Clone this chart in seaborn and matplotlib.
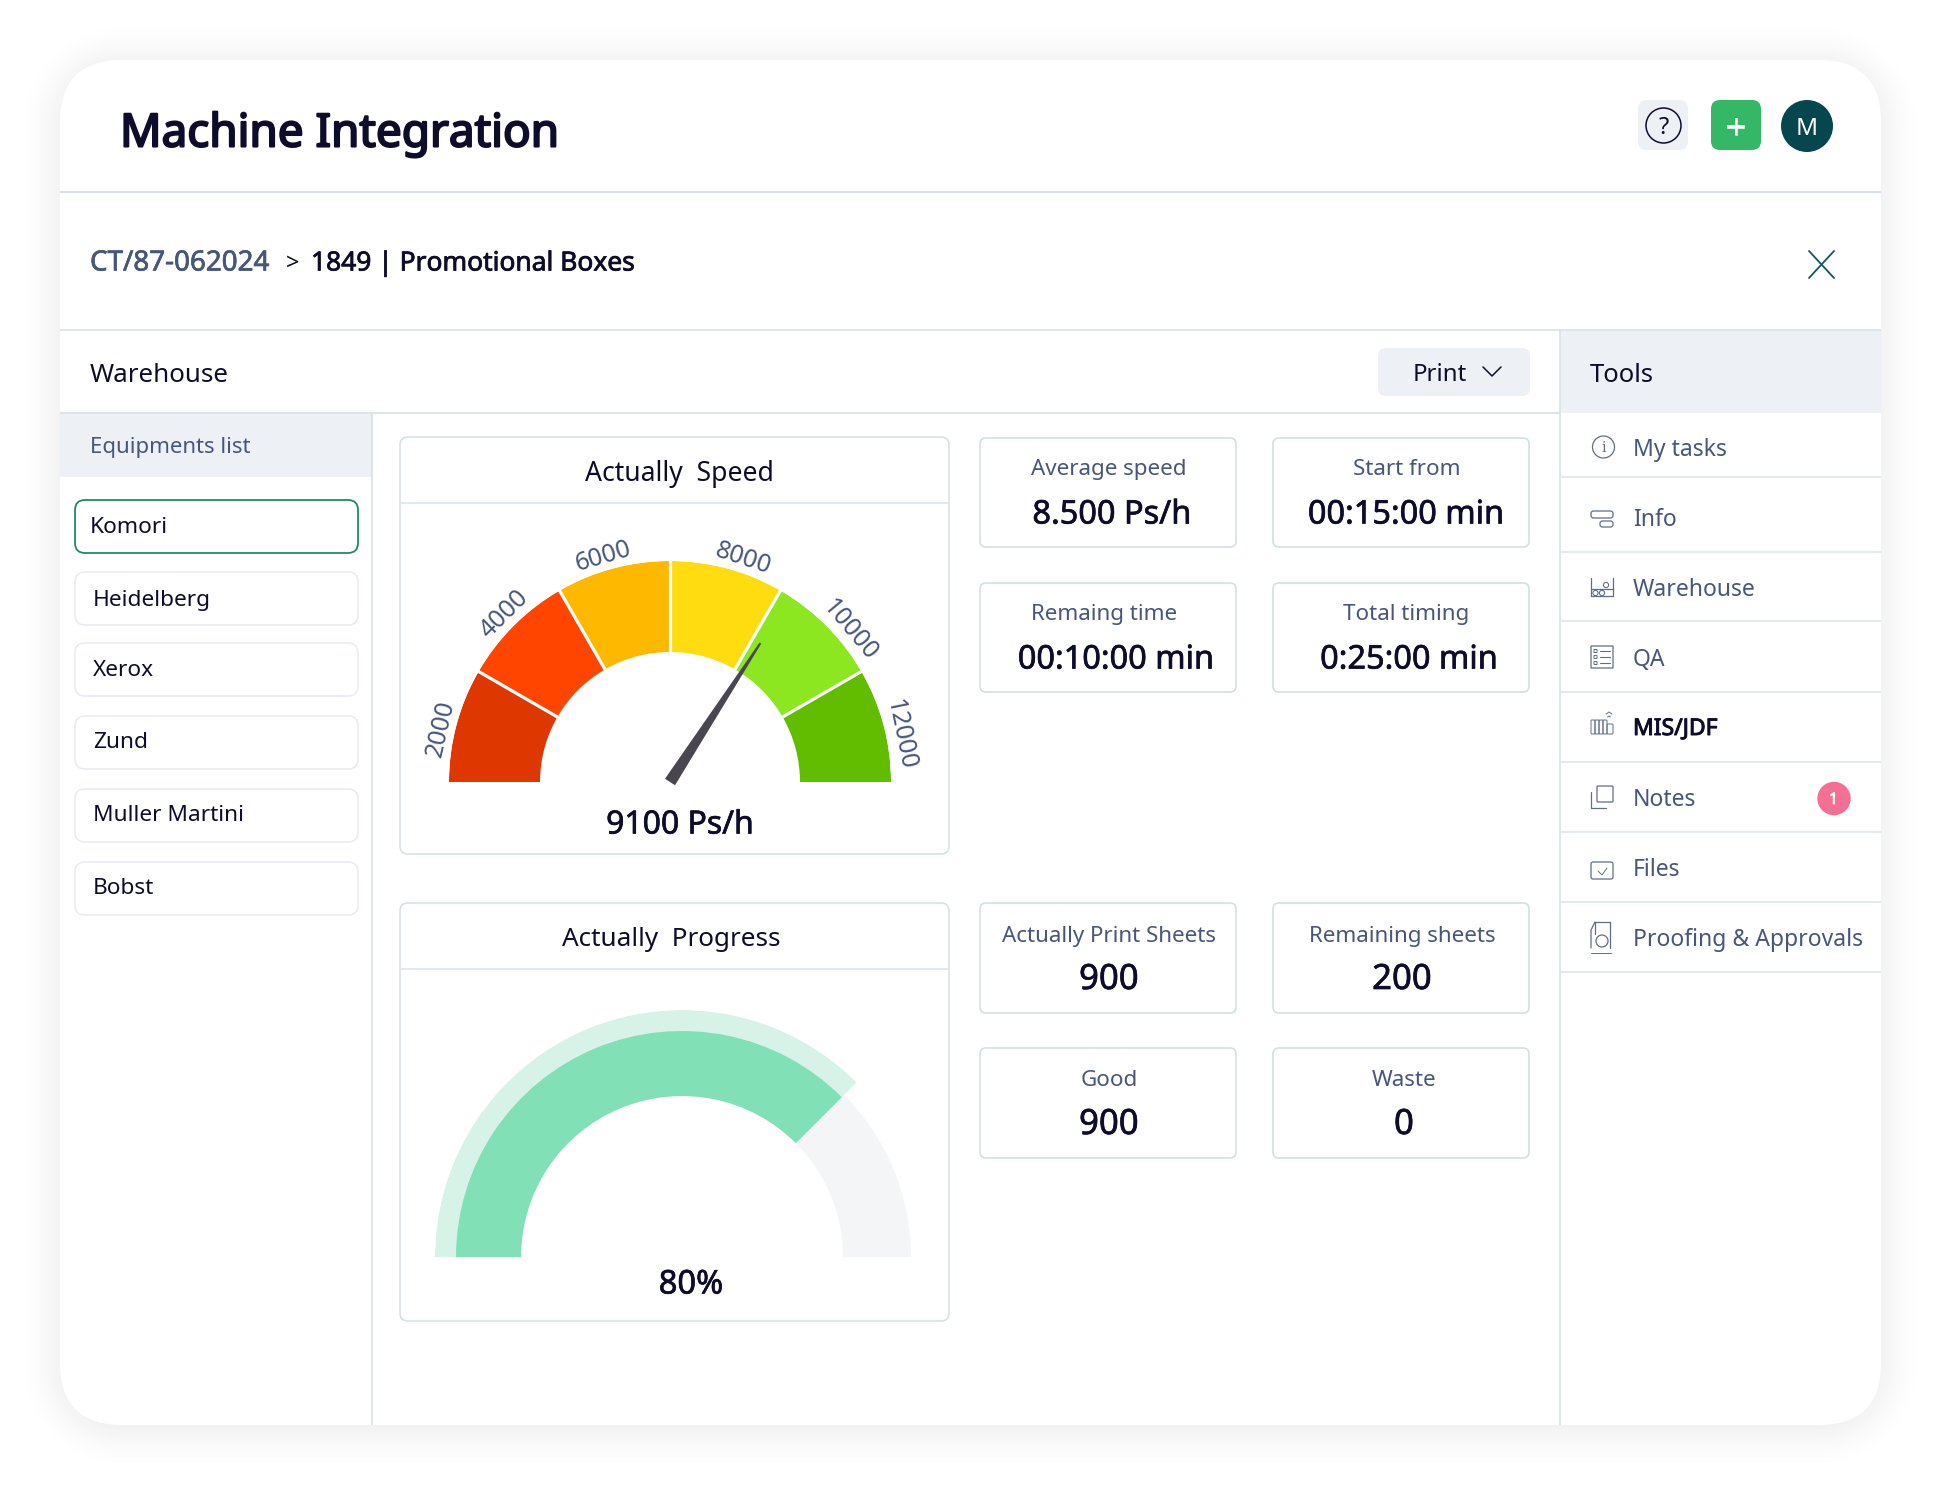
import numpy as np
import pandas as pd
import matplotlib
matplotlib.use("Agg")
import matplotlib.pyplot as plt
import matplotlib.patheffects as pe
from matplotlib.patches import FancyBboxPatch, Circle, Rectangle
import seaborn as sns

# ---------- data ----------
title = "Machine Integration"
crumb_job = "CT/87-062024"
crumb_name = "1849 | Promotional Boxes"
equipment_names = ["Komori", "Heidelberg", "Xerox", "Zund", "Muller Martini", "Bobst"]
tool_items = ["My tasks", "Info", "Warehouse", "QA", "MIS/JDF", "Notes", "Files", "Proofing & Approvals"]
speed_ticks = [2000, 4000, 6000, 8000, 10000, 12000]
speed_colors = ["#DE3700", "#FF4500", "#FFB800", "#FFDC10", "#8CE620", "#62BC00"]
speed_value = 9100
progress_value = 80
stat_upper_labels = ["Average speed", "Start from", "Remaing time", "Total timing"]
stat_upper_values = ["8.500 Ps/h", "00:15:00 min", "00:10:00 min", "0:25:00 min"]
stat_lower_labels = ["Actually Print Sheets", "Remaining sheets", "Good", "Waste"]
stat_lower_values = ["900", "200", "900", "0"]

# ---------- style ----------
sns.set_theme(style="white")
plt.rcParams["font.family"] = ["Noto Sans", "DejaVu Sans"]
W, H = 1941, 1486
INK = "#0D0D2B"
SLATE = "#46577A"
LINE = "#D3E0E2"
PANEL = "#EDF0F5"

fig = plt.figure(figsize=(W / 100, H / 100), dpi=100, facecolor="white")
ui = fig.add_axes([0, 0, 1, 1])
ui.set_xlim(0, W)
ui.set_ylim(H, 0)
ui.axis("off")


def rbox(x0, y0, x1, y1, r, fc="white", ec="none", lw=1.0, z=2):
    ui.add_patch(FancyBboxPatch((x0, y0), x1 - x0, y1 - y0,
                                boxstyle=f"round,pad=0,rounding_size={r}",
                                fc=fc, ec=ec, lw=lw, zorder=z))


def label(x, y, s, size, color=INK, ha="center", heavy=0.0, z=6, **kw):
    t = ui.text(x, y - 1, s, fontsize=size, color=color, ha=ha, va="center_baseline",
                zorder=z, **kw)
    if heavy:
        t.set_path_effects([pe.withStroke(linewidth=heavy, foreground=color)])


def hline(x0, x1, y, color=LINE, lw=1.1):
    ui.plot([x0, x1], [y, y], color=color, lw=lw, zorder=3, solid_capstyle="butt")


def vline(x, y0, y1, color=LINE, lw=1.1):
    ui.plot([x, x], [y0, y1], color=color, lw=lw, zorder=3, solid_capstyle="butt")


# card shadow
CX0, CY0, CX1, CY1, CR = 60, 60, 1881, 1425, 62
yy, xx = np.mgrid[0:H, 0:W]
qx = np.abs(xx + 0.5 - (CX0 + CX1) / 2) - ((CX1 - CX0) / 2 - CR)
qy = np.abs(yy + 0.5 - (CY0 + CY1 + 6) / 2) - ((CY1 - CY0) / 2 - CR)
dist = np.hypot(np.maximum(qx, 0), np.maximum(qy, 0)) + np.minimum(np.maximum(qx, qy), 0) - CR
shade = np.clip(1 - dist / 48, 0, 1) ** 2 * 0.055
rgba = np.zeros((H, W, 4))
rgba[..., :3] = 0.1
rgba[..., 3] = shade
ui.imshow(rgba, extent=(0, W, H, 0), zorder=0, aspect="auto", interpolation="nearest")
ui.set_xlim(0, W)
ui.set_ylim(H, 0)

rbox(CX0, CY0, CX1, CY1, CR, fc="white", z=1)

# header
label(120, 130, title, 33, ha="left", heavy=1.5)
hline(CX0, CX1, 192, "#C9D9DC")
rbox(1638, 100, 1688, 150, 9, fc=PANEL)
ui.add_patch(Circle((1663.5, 125.5), 17.5, fc="none", ec=INK, lw=1.1, zorder=5))
label(1663.5, 126, "?", 17)
rbox(1711, 100, 1761, 150, 9, fc="#34B866")
label(1736, 127, "+", 26, color="white", heavy=0.4)
ui.add_patch(Circle((1807, 126), 26, fc="#06464E", ec="none", zorder=4))
label(1807, 127, "M", 17.5, color="white")

# breadcrumb
label(90, 261, crumb_job, 20, color=SLATE, ha="left", heavy=0.5)
label(286, 262, ">", 17, ha="left")
label(311, 261, crumb_name, 19, ha="left", heavy=0.55)
ui.plot([1809, 1834], [251, 278], color="#15565E", lw=1.3, zorder=5)
ui.plot([1809, 1834], [278, 251], color="#15565E", lw=1.3, zorder=5)

# warehouse bar
hline(CX0, CX1, 330, "#D3E0E2")
hline(CX0, 1560, 413, "#DCE5E8", lw=1.4)
label(90, 373, "Warehouse", 18.7, ha="left")
rbox(1378, 348, 1530, 396, 8, fc=PANEL)
label(1413, 373, "Print", 17.3, ha="left")
ui.plot([1483, 1492, 1501], [367, 376, 367], color=INK, lw=1.1, zorder=5)

# left list
ui.add_patch(Rectangle((CX0, 414), 312, 63, fc=PANEL, ec="none", zorder=2))
vline(372, 413, CY1)
label(90, 446, "Equipments list", 16, color=SLATE, ha="left")
box_tops = [500, 572, 643, 716, 789, 862]
name_y = [526, 599, 669, 741, 814, 887]
box_text_x = [90, 93, 93, 93, 93, 93]
for i, name in enumerate(equipment_names):
    sel = i == 0
    rbox(75, box_tops[i], 358, box_tops[i] + 53, 10, fc="white",
         ec="#1F8A6A" if sel else "#E9EDF3", lw=1.3 if sel else 1.2)
    label(box_text_x[i], name_y[i], name, 16.3, ha="left")

# right tools
vline(1560, 330, CY1)
ui.add_patch(Rectangle((1561, 331), CX1 - 1561, 82, fc=PANEL, ec="none", zorder=2))
label(1590, 373, "Tools", 18.5, ha="left")
row_lines = [477, 552, 621, 692, 762, 832, 902, 972]
row_text = [448, 518, 588, 658, 727, 798, 868, 938]
for i, item in enumerate(tool_items):
    hline(1561, CX1, row_lines[i], "#DCE5E8")
    bold = item == "MIS/JDF"
    label(1633, row_text[i], item, 16.5, color=INK if bold else SLATE, ha="left",
          heavy=0.7 if bold else 0)

ICON = "#5F6E88"


def ibox(x0, y0, x1, y1, r=2, lw=0.9):
    rbox(x0, y0, x1, y1, r, fc="none", ec=ICON, lw=lw, z=5)


def iline(xs, ys, lw=0.9):
    ui.plot(xs, ys, color=ICON, lw=lw, zorder=5)


ui.add_patch(Circle((1603.5, 447), 11, fc="none", ec=ICON, lw=0.9, zorder=5))
label(1603.5, 448, "i", 10, color=ICON, family="DejaVu Serif")
ibox(1591, 511, 1613, 518, 2.5)
ibox(1600, 521, 1613, 527, 2.5)
iline([1591, 1591], [578, 596])
iline([1613, 1613], [578, 596])
iline([1591, 1613], [589, 589])
iline([1591, 1613], [596, 596])
for cx, cy in [(1595.5, 593), (1602, 593), (1606, 585)]:
    ui.add_patch(Circle((cx, cy), 2.6, fc="none", ec=ICON, lw=0.8, zorder=5))
ibox(1591, 646, 1613, 668, 0.5)
for ry in [651, 657, 663]:
    ibox(1594, ry - 1.5, 1597, ry + 1.5, 0.3, lw=0.7)
    iline([1600, 1610], [ry, ry], lw=0.8)
for bx in [1591, 1595, 1599, 1603]:
    ibox(bx, 720, bx + 4, 734, 0.8, lw=0.7)
ibox(1607, 724, 1613, 734, 0.8, lw=0.7)
iline([1606, 1609, 1612], [714, 712, 714], lw=0.7)
iline([1607.5, 1609, 1610.5], [717, 716, 717], lw=0.7)
ibox(1597, 786, 1613, 802, 1)
iline([1591, 1591, 1606], [792, 808, 808])
ibox(1591, 862, 1613, 879, 2)
iline([1598, 1602, 1607], [871, 875, 868], lw=0.7)
iline([1595, 1595, 1610, 1610], [934, 922, 922, 948])
iline([1591, 1591, 1595], [948, 930, 922])
ui.add_patch(Circle((1602, 941), 6, fc="none", ec=ICON, lw=0.9, zorder=5))
iline([1591, 1611], [953, 953], lw=0.7)

ui.add_patch(Circle((1834, 798.5), 16.7, fc="#F37094", ec="none", zorder=4))
label(1833.5, 799, "1", 11.5, color="white", heavy=0.6)


# main panels
def panel(x0, y0, x1, y1, head_y=None):
    rbox(x0, y0, x1, y1, 8, fc="white", ec=LINE, lw=1.1)
    if head_y:
        hline(x0, x1, head_y, "#DDE7E9", lw=1.3)


panel(400, 437, 949, 854, 503)
label(679, 472, "Actually  Speed", 19.1)
label(680, 822, "9100 Ps/h", 23, heavy=0.5)
panel(400, 903, 949, 1321, 969)
label(671, 938, "Actually  Progress", 18.8)
label(691, 1282, "80%", 23.5, heavy=0.5)

col_x = [(980, 1236), (1273, 1529)]
upper_rows = [(438, 547), (583, 692)]
lower_rows = [(903, 1013), (1048, 1158)]
up_lab = [(1109, 468), (1407, 468), (1104, 613), (1406, 613)]
up_val = [(1112, 512), (1406, 512), (1116, 657), (1409, 657)]
lo_lab = [(1109, 935), (1402, 935), (1109, 1079), (1404, 1079)]
lo_val = [(1109, 977), (1402, 977), (1109, 1122), (1404, 1122)]
for rows, labs, vals, lp, vp, vsize in [
        (upper_rows, stat_upper_labels, stat_upper_values, up_lab, up_val, 23.4),
        (lower_rows, stat_lower_labels, stat_lower_values, lo_lab, lo_val, 25)]:
    k = 0
    for r in rows:
        for c in col_x:
            rbox(c[0], r[0], c[1], r[1], 6, fc="white", ec=LINE, lw=1.2)
            label(lp[k][0], lp[k][1], labs[k], 16.1, color=SLATE)
            label(vp[k][0], vp[k][1], vals[k], vsize, heavy=0.5)
            k += 1


# ---------- gauges ----------
def polar_axes(cx, cy, R):
    ax = fig.add_axes([(cx - R) / W, 1 - (cy + R) / H, 2 * R / W, 2 * R / H],
                      projection="polar")
    ax.patch.set_alpha(0)
    return ax


def finish(ax):
    ax.set_ylim(0, 1)
    ax.set_xlim(0, 2 * np.pi)
    ax.set_axis_off()


def band_theta(v):
    return np.deg2rad(165 - (np.asarray(v, dtype=float) - 2000) * 0.015)


def dial_theta(v):
    return np.deg2rad(167 - (np.asarray(v, dtype=float) - 2000) * 0.0155)


INNER = 130 / 221
TICK_LABEL_DEG = [167, 134.6, 106.5, 71.8, 40, 11.5]
ax_s = polar_axes(670, 782, 221)
df_speed = pd.DataFrame({"theta": band_theta(speed_ticks), "extent": 1 - INNER,
                         "tick": [str(t) for t in speed_ticks]})
sns.barplot(data=df_speed, x="theta", y="extent", hue="tick", palette=speed_colors,
            hue_order=df_speed["tick"].tolist(), native_scale=True, dodge=False, width=1.0,
            bottom=INNER, saturation=1, linewidth=0, legend=False, errorbar=None, ax=ax_s)
for t in band_theta(speed_ticks[:-1]) - np.deg2rad(15):
    ax_s.plot([t, t], [INNER - 0.01, 1.01], color="white", lw=2.3, zorder=5,
              solid_capstyle="butt", clip_on=False)
for deg, txt in zip(TICK_LABEL_DEG, speed_ticks):
    ax_s.text(np.deg2rad(deg), 1.065, str(txt), rotation=deg - 90, rotation_mode="anchor",
              ha="center", va="center", fontsize=18, color=SLATE, clip_on=False)
th = float(dial_theta(speed_value))
ax_s.fill([th - np.pi / 2, th + np.pi / 2, th + 0.006, th - 0.006], [0.027, 0.027, 0.75, 0.75],
          color="#4A4650", lw=0, zorder=8, clip_on=False)
finish(ax_s)

P_SWEEP = 135 / 80   # degrees of arc per percent
end = np.deg2rad(180 - progress_value * P_SWEEP)
R_LIGHT = 247.0
IN_P, OUT_DARK, OUT_GRAY = 161 / R_LIGHT, 226 / R_LIGHT, 229 / R_LIGHT
ax_p = polar_axes(682, 1257, R_LIGHT)
sns.barplot(x=[end / 2], y=[OUT_GRAY - IN_P], native_scale=True, width=end, bottom=IN_P,
            color="#F4F5F7", saturation=1, linewidth=0, errorbar=None, ax=ax_p)
mid, span = (np.pi + end) / 2, np.pi - end
sns.barplot(x=[mid], y=[1 - IN_P], native_scale=True, width=span, bottom=IN_P,
            color="#D7F3E7", saturation=1, linewidth=0, errorbar=None, ax=ax_p)
sns.barplot(x=[mid], y=[OUT_DARK - IN_P], native_scale=True, width=span, bottom=IN_P,
            color="#81E0B6", saturation=1, linewidth=0, errorbar=None, ax=ax_p)
finish(ax_p)

fig.savefig("out.png", dpi=100, facecolor="white")
